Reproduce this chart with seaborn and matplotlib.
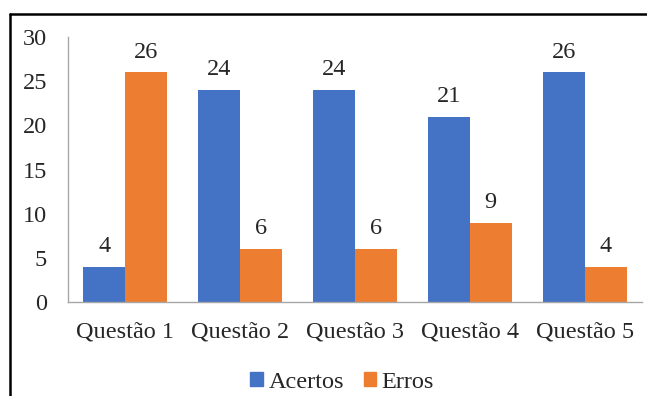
import matplotlib
matplotlib.use("Agg")
import matplotlib.pyplot as plt
from matplotlib.lines import Line2D
import seaborn as sns
import pandas as pd

questoes = ["Questão 1", "Questão 2", "Questão 3", "Questão 4", "Questão 5"]
acertos = [4, 24, 24, 21, 26]
erros = [26, 6, 6, 9, 4]
series = ["Acertos", "Erros"]
cores = ["#4472C4", "#ED7D31"]

df = pd.DataFrame({
    "Questão": questoes * 2,
    "Valor": acertos + erros,
    "Série": [series[0]] * len(questoes) + [series[1]] * len(questoes),
})

sns.set_style("white")
plt.rcParams["font.family"] = ["Liberation Serif", "DejaVu Serif"]
fs = 17.5

fig = plt.figure(figsize=(6.47, 3.96), dpi=100)
ax = fig.add_axes([68 / 647, 1 - 302 / 396, 574 / 647, 265 / 396])

sns.barplot(data=df, x="Questão", y="Valor", hue="Série", palette=cores,
            width=0.73, gap=0, saturation=1, linewidth=0, ax=ax, legend=False)

ax.set_ylim(0, 30)
ax.set_xlim(-0.5, 4.5)
ax.set_yticks(range(0, 31, 5))
ax.set_xlabel("")
ax.set_ylabel("")
ax.tick_params(axis="y", length=0, pad=15, labelsize=fs)
ax.tick_params(axis="x", length=0, pad=14, labelsize=fs)

for side in ["top", "right"]:
    ax.spines[side].set_visible(False)
for side in ["left", "bottom"]:
    ax.spines[side].set_color("#A6A6A6")
    ax.spines[side].set_linewidth(1)

for cont in ax.containers:
    ax.bar_label(cont, fmt="%d", padding=7, fontsize=fs)

handles = [plt.Rectangle((0, 0), 1, 1, color=c) for c in cores]
fig.legend(handles, series, loc="center", bbox_to_anchor=(0.529, 1 - 382 / 396),
           ncol=2, frameon=False, fontsize=fs, handlelength=0.5,
           handleheight=0.5, handletextpad=0.25, columnspacing=0.8)

# outer frame (top and left edges)
fig.add_artist(Line2D([10 / 647, 1.0], [1 - 14 / 396] * 2, color="black", lw=1.8,
                      transform=fig.transFigure))
fig.add_artist(Line2D([10 / 647] * 2, [0.0, 1 - 14 / 396], color="black", lw=1.8,
                      transform=fig.transFigure))

fig.savefig("out.png", dpi=100)
